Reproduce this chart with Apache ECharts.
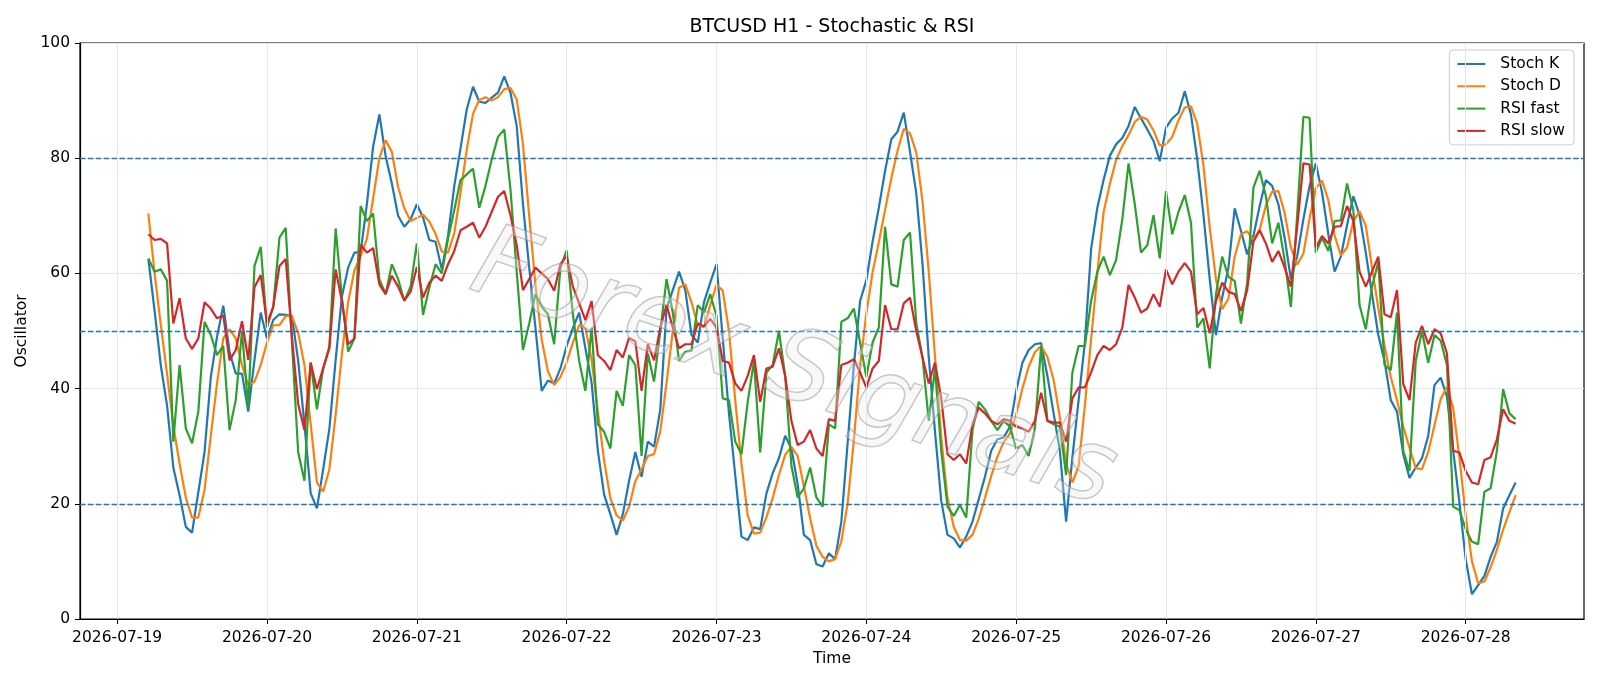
<!DOCTYPE html>
<html>
<head>
<meta charset="utf-8">
<title>BTCUSD H1 - Stochastic & RSI</title>
<script src="https://cdn.jsdelivr.net/npm/echarts@6/dist/echarts.min.js"></script>
<style>
  html, body { margin: 0; padding: 0; background: #fff; }
  #chart { width: 1600px; height: 686px; }
</style>
</head>
<body>
<div id="chart"></div>
<script>
// x is counted in hours from 2026-07-19 00:00; first bar is 05:00
const FIRST_HOUR = 5

const dayLabels = ['2026-07-19', '2026-07-20', '2026-07-21', '2026-07-22', '2026-07-23',
  '2026-07-24', '2026-07-25', '2026-07-26', '2026-07-27', '2026-07-28']
const refLevels = [20, 50, 80]

const stochK = [
  62.5, 53.5, 44, 37, 26.3, 21.5, 16, 15, 22, 29,
  42, 49, 54.4, 46.4, 42.6, 42.6, 36, 45, 53.2, 48.7,
  51.9, 52.9, 52.8, 52.6, 44.8, 33.8, 21.8, 19.2, 26, 33.1,
  45, 56, 61, 63.6, 63.7, 72, 82, 87.6, 80.4, 75.6,
  70, 68.1, 69.4, 72, 69.7, 65.8, 65.5, 60.7, 66.5, 75.2,
  81.7, 88.5, 92.4, 89.8, 89.6, 90.5, 91.4, 94.2, 91.4, 85.6,
  72, 61, 50.6, 39.6, 41.4, 40.9, 43.5, 47.4, 50.5, 53.2,
  47, 41, 29.2, 21.6, 18.2, 14.6, 18.2, 24, 29, 24.7,
  30.8, 29.9, 36.4, 53.9, 57.1, 60.3, 57.1, 49.3, 48, 55,
  58.4, 61.6, 48.7, 35.7, 25, 14.3, 13.7, 15.9, 15.6, 21.8,
  25.3, 27.9, 31.8, 29.6, 23.4, 14.6, 13.7, 9.5, 9.1, 11.4,
  10.4, 16.9, 30.5, 44, 55.2, 58.8, 65.5, 71.4, 77.8, 83.3,
  84.6, 87.9, 81.1, 73.9, 61.6, 45.4, 32.5, 20.5, 14.6, 14,
  12.4, 14.3, 16.9, 20.8, 24.7, 29.2, 31.2, 31.5, 33.4, 39.6,
  44.5, 46.7, 47.7, 47.9, 42.2, 35.7, 29.2, 16.9, 28, 38,
  48, 64.2, 71.4, 76.2, 80.4, 82.4, 83.5, 85.6, 88.9, 86.9,
  85, 83, 79.5, 85.3, 86.9, 87.9, 91.6, 87.6, 79.8, 70.1,
  59, 49.3, 55.8, 61, 71.3, 67.4, 63.3, 66.5, 71.7, 76.2,
  75.2, 72, 66.2, 59, 62.9, 69.4, 75.2, 79.1, 74, 66.8,
  60.3, 62.9, 68.4, 73.4, 70.1, 63.6, 56.4, 49.3, 44.8, 38,
  36, 28.6, 24.5, 26.3, 27.9, 31.8, 40.6, 41.9, 38.6, 29.2,
  20.2, 10.4, 4.3, 5.9, 7.5, 10.8, 13.4, 19.2, 21.5, 23.7
]

const stochD = [
  70.4, 60, 51, 42.5, 33.5, 27, 21.1, 17.6, 17.6, 22.4,
  31.8, 40.9, 48.7, 50.3, 48.7, 44.1, 40.6, 41.2, 44.1, 48,
  51, 51, 52.6, 52.6, 49.6, 44.1, 33.8, 23.7, 22.1, 26,
  35.5, 46, 55, 60.5, 63, 66, 73, 80, 83.1, 81.1,
  75, 71.3, 69.1, 69.6, 70.2, 69, 66.9, 63.8, 63.6, 67,
  74, 81.5, 87.7, 90.1, 90.6, 90, 90.6, 92, 92.2, 90.2,
  82.5, 70, 58, 48.5, 43, 40.6, 42, 44.5, 48, 51,
  50.5, 45, 36, 27.5, 21, 18, 17.1, 19.5, 23.9, 26,
  28.3, 28.6, 32.6, 41, 50, 57.5, 58.1, 55, 51, 50.7,
  54.5, 58, 57, 50, 38, 27, 18, 14.8, 15, 17.7,
  21, 25, 28.5, 29.9, 28.3, 23, 17.5, 12.7, 10.8, 10,
  10.4, 13.5, 20, 31, 44, 53, 60.2, 65.4, 71, 76.5,
  81.3, 85.1, 84.3, 81, 72.5, 60.3, 45.5, 31.5, 21, 16,
  13.7, 13.6, 14.6, 17.4, 21, 24.8, 28.2, 30.7, 32.2, 35.5,
  40, 43.8, 46.3, 47.4, 45.5, 41.5, 35, 27, 23.7, 26.5,
  37, 48.5, 60, 70.6, 75.5, 79.7, 82.1, 84, 86.3, 87.2,
  86.7, 84.8, 82.2, 82.4, 83.7, 86.6, 88.8, 89, 86, 78.7,
  68, 59, 53.8, 55.6, 62.9, 66.8, 67.3, 65.8, 67.6, 71.8,
  74.2, 74.3, 70.5, 64.5, 61.5, 63.4, 69.6, 74.8, 76.1, 72.7,
  66.6, 63.1, 64.5, 69, 70.8, 68.3, 61, 54, 47.5, 42,
  38, 33.4, 29.7, 26.2, 26, 29, 33.6, 38.2, 40.3, 36.6,
  28, 18, 10, 6.2, 6.5, 9, 12, 15.5, 18.5, 21.5
]

const rsiFast = [
  62.6, 60.3, 60.7, 58.7, 30.8, 44.1, 33.1, 30.5, 36, 51.6,
  49.3, 45.8, 47.4, 32.8, 38, 50, 36.7, 61.3, 64.6, 50.6,
  54.2, 66.2, 67.9, 48, 28.9, 24, 44.5, 36.4, 43.5, 47.4,
  67.8, 55.8, 46.4, 48.7, 71.7, 69.1, 70.4, 59, 56.4, 61.6,
  59, 55.2, 57.7, 65.2, 52.8, 57.5, 61.6, 60, 66, 71,
  76.2, 77.2, 78.2, 71.4, 75.2, 79.8, 83.7, 85, 74.6, 60.3,
  46.7, 51.3, 56.4, 54.2, 52.9, 47.7, 61, 64, 52.9, 44.8,
  39.6, 50.6, 33.8, 32.5, 29.6, 39.6, 37, 45.8, 44.1, 28.3,
  46.1, 41.2, 50, 59, 53.2, 44.8, 46.4, 46.6, 54.5, 53.2,
  56.4, 52.6, 38.3, 38, 30.8, 28.6, 37.7, 44.8, 28.9, 42.8,
  44.1, 50, 42.2, 26.6, 21.1, 22.7, 26.3, 21.1, 19.5, 33.8,
  33.1, 51.6, 52.2, 53.9, 48, 42, 48, 50.6, 68.1, 58.1,
  57.7, 65.8, 67.1, 51.3, 45.4, 34.4, 43.5, 29.2, 19.5, 17.9,
  19.8, 17.6, 32.8, 37.7, 36.4, 34.4, 32.8, 34.4, 33.4, 29.6,
  30.2, 28.3, 33.1, 47.4, 34.4, 33.8, 33.4, 25, 42.8, 47.4,
  47.4, 55.2, 60.3, 62.9, 59.7, 62.3, 69.4, 79.1, 72, 63.6,
  64.9, 70.1, 62.6, 74.3, 66.8, 70.7, 73.6, 68.8, 50.6, 52.2,
  43.5, 56.4, 62.9, 59.4, 58.7, 51.3, 58.4, 74.9, 77.8, 73.4,
  65.2, 68.8, 62.3, 54.2, 70, 87.2, 87, 63.6, 66.2, 63.9,
  69.1, 69.2, 75.6, 71, 54.5, 50.3, 57.7, 62, 44.1, 43.2,
  53.2, 29.2, 25.7, 44.8, 50, 44.5, 49.3, 48.3, 44.1, 19.5,
  18.9, 15.6, 13.4, 13, 22.1, 22.7, 29.2, 39.9, 35.7, 34.7
]

const rsiSlow = [
  66.8, 65.8, 66, 65.2, 51.3, 55.7, 48.7, 46.9, 48.7, 55,
  53.9, 52.2, 52.7, 44.9, 46.7, 51.7, 45, 57.6, 59.7, 51.3,
  54.2, 61.3, 62.5, 49, 37.3, 32.8, 44.5, 39.9, 43.5, 47,
  60.7, 55.2, 47.7, 48.7, 65, 63.6, 64.4, 58.1, 56.4, 59.6,
  57.7, 55.3, 56.8, 61.1, 55.8, 58.4, 59.6, 58.7, 61.6, 63.9,
  67.5, 68.1, 68.8, 66.2, 68.1, 70.7, 73.3, 74.3, 70.1, 64.9,
  57.1, 59, 61, 60, 59, 57, 61.6, 63, 57.7, 54.8,
  51.9, 55.2, 45.8, 44.8, 43.2, 46.7, 45.4, 48.8, 48.2, 39.6,
  47.7, 44.9, 50.6, 54.5, 50.6, 47, 47.7, 47.7, 51.3, 50.8,
  52.1, 50.6, 44.8, 44.5, 40.9, 39.6, 42.2, 45.8, 37.7, 43.5,
  43.8, 47, 42.2, 34.4, 30.2, 30.8, 32.8, 29.6, 28.3, 34.7,
  34.4, 44.1, 44.5, 45.1, 42.8, 40.2, 43.5, 44.8, 54.5, 50.3,
  50.3, 54.8, 55.8, 50, 45.4, 40.9, 44.5, 38.3, 28.6, 27.6,
  28.6, 27, 33.8, 36.7, 35.7, 34.4, 33.8, 34.7, 34.4, 33.4,
  33.1, 32.5, 34.4, 39.3, 34.4, 34.1, 34.1, 30.8, 38.3, 40.2,
  40.2, 42.8, 45.8, 47.4, 46.7, 47.7, 50.6, 58, 55.8, 53.2,
  53.9, 56.4, 54.2, 60.7, 58.1, 60.3, 61.8, 60.3, 52.9, 54,
  49.6, 55.2, 58.4, 56.8, 56.4, 53.5, 57.1, 65.5, 67.5, 65.2,
  62, 63.9, 61, 57.7, 68, 79.1, 78.9, 64.5, 66.5, 65.2,
  68.1, 68.2, 71.7, 69.1, 60.3, 57.7, 60.3, 62.9, 52.9, 52.4,
  57.1, 40.8, 38, 48, 50.9, 47.7, 50.3, 49.6, 46.1, 29.2,
  28.9, 25.7, 23.7, 23.4, 27.6, 28.1, 31.2, 36.4, 34.4, 33.9
]

const hours = stochK.map((_, i) => FIRST_HOUR + i)
const dayTicks = dayLabels.map((_, d) => d * 24)
// same 5% padding as the original plot
const span = hours[hours.length - 1] - hours[0]
const xMin = hours[0] - span * 0.05
const xMax = hours[hours.length - 1] + span * 0.05

const FONT = 'DejaVu Sans'
const FS = 15.5
const GRID_COLOR = '#e6e6e6'

function pairs(arr) {
  return arr.map((v, i) => [hours[i], v])
}

function lineSeries(name, data, color) {
  return {
    name: name,
    type: 'line',
    data: pairs(data),
    symbol: 'none',
    showSymbol: false,
    lineStyle: { width: 2.2, color: color },
    itemStyle: { color: color },
    z: 3,
  }
}

const chart = echarts.init(document.getElementById('chart'))
chart.setOption({
  animation: false,
  backgroundColor: '#fff',
  textStyle: { fontFamily: FONT },
  grid: {
    left: 80, right: 16, top: 43, bottom: 67,
    show: true, borderColor: '#000', borderWidth: 1.2,
  },
  legend: {
    data: ['Stoch K', 'Stoch D', 'RSI fast', 'RSI slow'],
    orient: 'vertical',
    right: 26,
    top: 50,
    icon: 'rect',
    itemWidth: 28,
    itemHeight: 2,
    itemGap: 6.3,
    padding: [6, 9, 6, 8],
    backgroundColor: 'rgba(255,255,255,0.8)',
    borderColor: '#cccccc',
    borderWidth: 1,
    borderRadius: 4,
    textStyle: { fontFamily: FONT, fontSize: FS, color: '#000', padding: [0, 0, 0, 10] },
  },
  xAxis: {
    type: 'value',
    min: xMin,
    max: xMax,
    name: 'Time',
    nameLocation: 'middle',
    nameGap: 31,
    nameTextStyle: { fontFamily: FONT, fontSize: FS, color: '#000' },
    axisLine: { onZero: false, lineStyle: { color: '#000', width: 1.2 } },
    axisTick: { show: true, length: 5, lineStyle: { color: '#000' }, customValues: dayTicks },
    axisLabel: {
      customValues: dayTicks,
      formatter: v => dayLabels[Math.round(v / 24)] || '',
      fontFamily: FONT, fontSize: FS, color: '#000', margin: 11,
    },
    splitLine: { show: false },
  },
  yAxis: {
    type: 'value',
    min: 0,
    max: 100,
    interval: 20,
    name: 'Oscillator',
    nameLocation: 'middle',
    nameGap: 43,
    nameRotate: 90,
    nameTextStyle: { fontFamily: FONT, fontSize: FS, color: '#000' },
    axisLine: { show: true, onZero: false, lineStyle: { color: '#000', width: 1.2 } },
    axisTick: { show: true, length: 5, lineStyle: { color: '#000' } },
    axisLabel: { fontFamily: FONT, fontSize: FS, color: '#000', margin: 10 },
    splitLine: { show: true, lineStyle: { color: GRID_COLOR, width: 1 } },
  },
  graphic: [
    {
      type: 'text',
      x: 832,
      y: 27,
      silent: true,
      style: {
        text: 'BTCUSD H1 - Stochastic & RSI',
        fontFamily: FONT,
        fontSize: 19,
        fill: '#000',
        align: 'center',
        verticalAlign: 'middle',
      },
    },
    {
      // faint watermark across the plot
      type: 'text',
      x: 793,
      y: 372,
      rotation: -0.33,
      silent: true,
      z: 10,
      style: {
        text: 'Forex Signals',
        fontFamily: FONT,
        fontSize: 100,
        fontStyle: 'italic',
        fill: 'rgba(235,235,235,0.35)',
        stroke: 'rgba(130,130,130,0.5)',
        lineWidth: 1.5,
        shadowColor: 'rgba(0,0,0,0.25)',
        shadowBlur: 3,
        shadowOffsetX: 3,
        shadowOffsetY: 3,
        align: 'center',
        verticalAlign: 'middle',
      },
    },
  ],
  series: [
    {
      // vertical day grid lines
      name: 'dayGrid',
      type: 'line',
      data: [],
      z: 1,
      silent: true,
      markLine: {
        silent: true,
        symbol: 'none',
        label: { show: false },
        lineStyle: { color: GRID_COLOR, width: 1, type: 'solid' },
        data: dayTicks.map(t => ({ xAxis: t })),
      },
    },
    lineSeries('Stoch K', stochK, '#1f77b4'),
    lineSeries('Stoch D', stochD, '#ff7f0e'),
    lineSeries('RSI fast', rsiFast, '#2ca02c'),
    lineSeries('RSI slow', rsiSlow, '#d62728'),
    {
      // 20 / 50 / 80 levels
      name: 'levels',
      type: 'line',
      data: [],
      z: 4,
      silent: true,
      markLine: {
        silent: true,
        symbol: 'none',
        label: { show: false },
        lineStyle: { color: '#1f77b4', width: 1.3, type: [5.5, 2.4] },
        data: refLevels.map(v => ({ yAxis: v })),
      },
    },
  ],
})
</script>
</body>
</html>
